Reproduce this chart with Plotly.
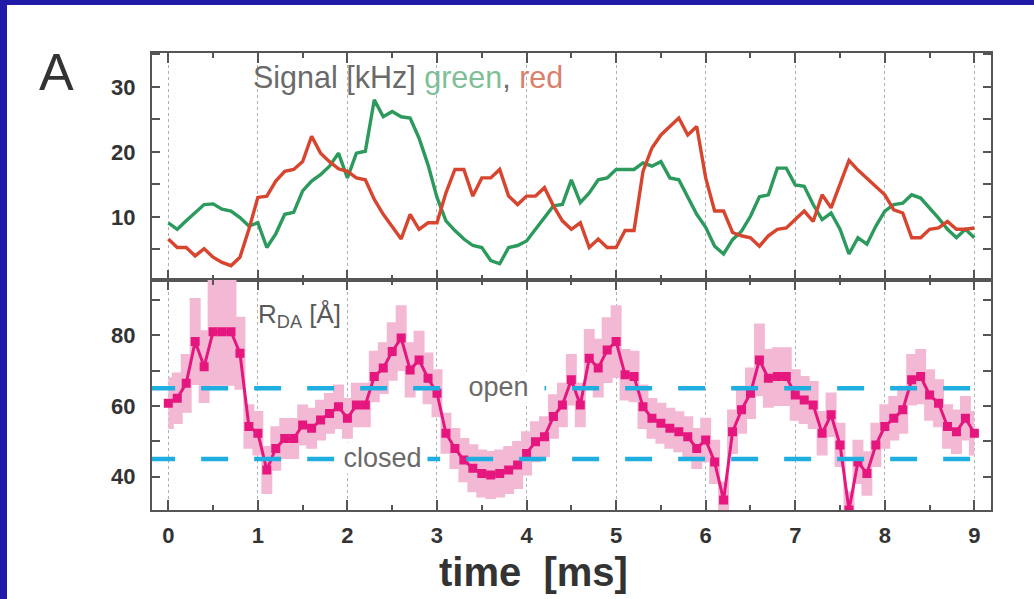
import plotly.graph_objects as go

# sampling interval of the traces [ms]
dt = 0.1
n_pts = 91
t = [round(i * dt, 1) for i in range(n_pts)]

# count rates [kHz]
green = [9.1, 8.1, 9.4, 10.7, 11.9, 12.0, 11.2, 10.9, 9.9, 8.6,
         9.1, 5.3, 7.4, 10.4, 10.7, 14.0, 15.5, 16.5, 17.8, 19.8,
         16.0, 19.8, 20.1, 28.0, 25.4, 26.2, 25.4, 25.2, 22.1, 18.0,
         13.0, 9.4, 7.9, 6.6, 5.6, 5.3, 3.3, 2.8, 5.3, 5.6,
         6.3, 8.1, 9.9, 11.7, 11.9, 15.7, 12.2, 13.7, 15.7, 16.0,
         17.3, 17.3, 17.3, 18.3, 17.8, 18.5, 16.0, 15.7, 13.0, 10.4,
         8.4, 5.5, 4.3, 6.5, 7.8, 10.1, 13.1, 13.4, 17.5, 17.5,
         14.9, 14.7, 11.9, 9.6, 10.6, 8.1, 4.3, 6.8, 5.8, 8.6,
         10.9, 11.9, 12.1, 13.4, 12.9, 11.4, 9.8, 8.1, 6.8, 8.1,
         6.8]
red = [6.6, 5.3, 5.3, 4.0, 5.1, 3.8, 3.0, 2.5, 3.8, 8.1,
       13.0, 13.2, 15.5, 17.0, 17.3, 18.5, 22.4, 19.8, 18.5, 17.4,
       17.0, 16.0, 15.7, 12.7, 10.4, 8.4, 6.6, 10.4, 8.1, 9.1,
       9.1, 13.7, 17.3, 17.3, 13.2, 16.0, 16.0, 17.3, 13.2, 11.9,
       13.2, 13.2, 14.5, 11.7, 9.4, 8.1, 9.1, 5.3, 6.6, 5.3,
       5.3, 7.9, 7.9, 17.0, 20.6, 22.6, 23.9, 25.2, 22.6, 23.9,
       16.0, 10.9, 10.9, 7.6, 7.1, 6.8, 5.5, 7.1, 8.1, 8.3,
       9.6, 10.9, 9.3, 13.4, 11.4, 15.2, 18.7, 17.2, 15.9, 14.7,
       13.4, 11.1, 10.6, 6.8, 6.8, 8.1, 8.3, 9.3, 8.1, 8.1,
       8.3]

# donor-acceptor distance [Å] and its uncertainty
rda = [60.8, 62.2, 66.4, 78.2, 71.1, 81.0, 81.0, 81.0, 74.9, 54.2,
       52.3, 41.9, 48.0, 50.8, 50.8, 54.6, 53.7, 56.0, 57.9, 59.8,
       56.5, 60.3, 60.3, 68.3, 70.7, 75.4, 79.2, 70.2, 73.0, 67.8,
       63.6, 52.3, 48.0, 44.7, 42.4, 40.9, 40.5, 40.9, 41.9, 43.3,
       46.6, 49.9, 51.3, 57.0, 60.3, 67.4, 60.3, 73.5, 70.7, 75.8,
       78.2, 68.8, 68.3, 59.8, 56.5, 55.1, 53.7, 52.7, 51.3, 48.0,
       50.4, 44.2, 33.4, 52.7, 58.9, 63.6, 73.0, 67.8, 68.3, 68.3,
       63.1, 61.7, 60.3, 52.3, 57.5, 49.0, 30.6, 44.2, 40.9, 49.0,
       54.2, 56.5, 58.9, 67.4, 68.3, 63.1, 60.8, 54.2, 52.7, 56.5,
       52.3]
rda_err = [7, 7, 8, 12, 10, 15, 15, 15, 10, 6,
           6, 6.5, 6, 5.5, 5.5, 5.5, 5.5, 5.5, 5.5, 6,
           5.5, 6, 6, 7, 7, 8, 9, 7.5, 8, 7,
           6.5, 5.5, 5.5, 6, 6.5, 6.5, 6.5, 6.5, 6.5, 6.5,
           6, 5.5, 5.5, 6, 6, 7, 6, 8, 8, 9,
           10, 7, 7, 6, 5.5, 5.5, 5.5, 5.5, 5.5, 5.5,
           6, 6, 5, 6, 6.5, 7, 10, 8, 8, 8,
           7, 6.5, 6.5, 6, 6, 6, 5, 6, 6, 6,
           6, 6, 6.5, 7, 7.5, 7, 6.5, 6, 6, 6,
           6]

open_level = 65
closed_level = 45

x_ticks = [0, 1, 2, 3, 4, 5, 6, 7, 8, 9]
sig_ticks = [10, 20, 30]
rda_ticks = [40, 60, 80]

W, H = 1034, 599
GREEN = "#2b9a5c"
RED = "#d8452f"
MAGENTA = "#e5177f"
BAND = "#f3b9d4"
CYAN = "#1eaee0"
AXIS = "#555555"
NARROW = "Liberation Sans Narrow, Arial Narrow, Liberation Sans, Arial"
SANS = "Liberation Sans, Arial, sans-serif"

fig = go.Figure()

# top panel: count rates
fig.add_trace(go.Scatter(x=t, y=green, mode="lines", xaxis="x", yaxis="y",
                         line=dict(color=GREEN, width=3.4), showlegend=False))
fig.add_trace(go.Scatter(x=t, y=red, mode="lines", xaxis="x", yaxis="y",
                         line=dict(color=RED, width=3.4), showlegend=False))

# bottom panel: uncertainty band, distance trace, reference levels
upper = [r + e for r, e in zip(rda, rda_err)]
lower = [r - e for r, e in zip(rda, rda_err)]
fig.add_trace(go.Scatter(x=t, y=upper, mode="lines", xaxis="x2", yaxis="y2",
                         line=dict(width=2, color=BAND, shape="hvh"),
                         hoverinfo="skip", showlegend=False))
fig.add_trace(go.Scatter(x=t, y=lower, mode="lines", xaxis="x2", yaxis="y2",
                         line=dict(width=2, color=BAND, shape="hvh"),
                         fill="tonexty", fillcolor=BAND, hoverinfo="skip",
                         showlegend=False))
fig.add_trace(go.Scatter(x=t, y=rda, mode="lines+markers", xaxis="x2", yaxis="y2",
                         line=dict(color=MAGENTA, width=3),
                         marker=dict(symbol="square", size=9, color=MAGENTA),
                         cliponaxis=True, showlegend=False))
for lvl in (open_level, closed_level):
    fig.add_trace(go.Scatter(x=[-0.225, 9.2], y=[lvl, lvl], mode="lines",
                             xaxis="x2", yaxis="y2",
                             line=dict(color=CYAN, width=4.5, dash="27px,26px"),
                             hoverinfo="skip", showlegend=False))

x_dom = [152 / W, 990.5 / W]
top_dom = [1 - 280 / H, 1 - 53 / H]
bot_dom = [1 - 510 / H, 1 - 280 / H]
x_range = [-0.182, 9.18]

tick_font = dict(family=NARROW, size=22, color="#333333", weight="bold")

common_x = dict(domain=x_dom, range=x_range, tickvals=x_ticks, ticks="inside",
                ticklen=10, tickwidth=1.5, tickcolor=AXIS,
                minor=dict(dtick=0.5, tick0=0, ticks="inside", ticklen=5,
                           tickwidth=1.5, tickcolor=AXIS),
                showline=True, linecolor=AXIS, linewidth=2, mirror="ticks",
                showgrid=True, gridcolor="#b0b0b0", griddash="dot", gridwidth=1,
                zeroline=False, fixedrange=True)

common_y = dict(ticks="inside", ticklen=8, tickwidth=1.5, tickcolor=AXIS,
                showline=True, linecolor=AXIS, linewidth=2, mirror="ticks",
                showgrid=False, zeroline=False, tickfont=tick_font,
                ticklabelstandoff=10, fixedrange=True)

fig.update_layout(
    width=W, height=H,
    margin=dict(l=0, r=0, t=0, b=0),
    paper_bgcolor="white", plot_bgcolor="white",
    xaxis=dict(common_x, anchor="y", showticklabels=False),
    xaxis2=dict(common_x, anchor="y2", matches="x", showticklabels=True,
                tickfont=tick_font, ticklabelstandoff=5),
    yaxis=dict(common_y, domain=top_dom, anchor="x", range=[0.3, 35.2],
               tickvals=sig_ticks,
               minor=dict(dtick=5, tick0=0, ticks="inside", ticklen=8,
                          tickwidth=1.5, tickcolor=AXIS)),
    yaxis2=dict(common_y, domain=bot_dom, anchor="x2", range=[30.6, 95.6],
                tickvals=rda_ticks,
                minor=dict(dtick=10, tick0=0, ticks="inside", ticklen=8,
                           tickwidth=1.5, tickcolor=AXIS)),
    shapes=[
        dict(type="rect", xref="paper", yref="paper", x0=0, x1=7 / W, y0=0, y1=1,
             fillcolor="#2119a8", line=dict(width=0), layer="above"),
        dict(type="rect", xref="paper", yref="paper", x0=0, x1=1, y0=1 - 5 / H, y1=1,
             fillcolor="#2119a8", line=dict(width=0), layer="above"),
    ],
    annotations=[
        dict(text="A", x=37 / W, y=1 - 72 / H, xref="paper", yref="paper",
             xanchor="left", yanchor="middle", showarrow=False,
             font=dict(family=SANS, size=52, color="#333333")),
        dict(text="Signal [kHz] <span style='color:#7fbf98'>green</span>, "
                  "<span style='color:#d9806c'>red</span>",
             x=251 / W, y=1 - 77 / H, xref="paper", yref="paper",
             xanchor="left", yanchor="middle", showarrow=False,
             font=dict(family=SANS, size=30.5, color="#6a6a6a")),
        dict(text="R<sub>DA</sub> [Å]", x=256 / W, y=1 - 315 / H,
             xref="paper", yref="paper", xanchor="left", yanchor="middle",
             showarrow=False, font=dict(family=SANS, size=26, color="#5a5a5a")),
        dict(text="open", x=452 / W, y=1 - 387 / H, xref="paper", yref="paper",
             xanchor="left", yanchor="middle", showarrow=False, width=91,
             align="center", bgcolor="white", borderpad=0,
             font=dict(family=SANS, size=27, color="#6a6a6a")),
        dict(text="closed", x=337 / W, y=1 - 458 / H, xref="paper", yref="paper",
             xanchor="left", yanchor="middle", showarrow=False, width=89,
             align="center", bgcolor="white", borderpad=0,
             font=dict(family=SANS, size=27, color="#6a6a6a")),
        dict(text="time  [ms]", x=533 / W, y=1 - 572 / H, xref="paper",
             yref="paper", xanchor="center", yanchor="middle", showarrow=False,
             font=dict(family=NARROW, size=40, color="#333333", weight="bold")),
    ],
)

fig.write_html("out.html")
